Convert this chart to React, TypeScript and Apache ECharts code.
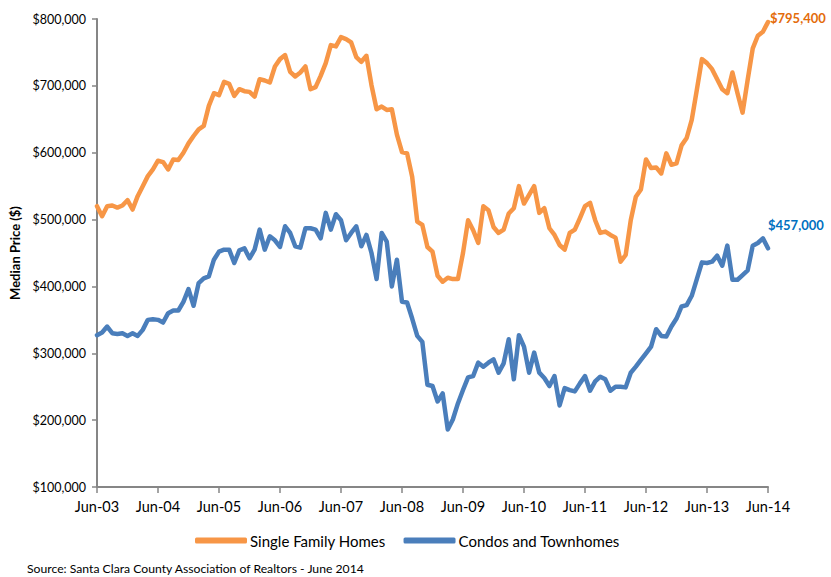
import React, { useEffect, useRef } from "react";
import * as echarts from "echarts";

const MONTHS = ["Jan", "Feb", "Mar", "Apr", "May", "Jun", "Jul", "Aug", "Sep", "Oct", "Nov", "Dec"];
// Jun-03 .. Jun-14, monthly
const categories: string[] = [];
for (let i = 0; i <= 132; i++) {
  const mIdx = (5 + i) % 12;
  const yr = 3 + Math.floor((5 + i) / 12);
  categories.push(`${MONTHS[mIdx]}-${String(yr).padStart(2, "0")}`);
}

const singleFamily = [
  520, 505, 520, 521, 518, 521, 529, 515, 535, 550, 565, 575, 588,
  586, 575, 590, 589, 600, 614, 625, 635, 640, 670, 689, 686,
  706, 703, 685, 695, 692, 691, 684, 710, 708, 705, 729, 740,
  746, 721, 714, 720, 729, 695, 698, 715, 734, 761, 759, 773,
  770, 765, 743, 736, 745, 701, 665, 669, 664, 665, 627, 601,
  599, 564, 497, 492, 459, 452, 416, 407, 413, 411, 411, 450,
  499, 484, 465, 520, 514, 489, 480, 485, 509, 517, 550, 524,
  537, 550, 510, 517, 487, 477, 462, 455, 480, 485, 502, 520,
  525, 499, 480, 482, 477, 473, 437, 447, 499, 534, 545, 590,
  577, 578, 569, 599, 582, 584, 611, 622, 649, 694, 740, 734,
  725, 710, 695, 689, 720, 689, 660, 709, 756, 775, 781, 795.4,
].map((v) => v * 1000);

const condos = [
  327, 331, 340, 330, 329, 330, 326, 330, 326, 335, 350, 351, 350,
  346, 360, 364, 364, 377, 396, 371, 405, 412, 415, 440, 452,
  455, 455, 435, 454, 457, 442, 455, 485, 455, 475, 469, 459,
  490, 480, 460, 458, 487, 487, 485, 472, 510, 485, 508, 499,
  469, 480, 490, 460, 477, 450, 411, 480, 467, 400, 440, 377,
  376, 352, 326, 317, 253, 251, 228, 240, 186, 201, 225, 245,
  264, 266, 286, 280, 286, 291, 271, 285, 321, 261, 327, 310,
  271, 301, 271, 263, 251, 266, 222, 248, 245, 243, 255, 266,
  244, 258, 265, 261, 244, 250, 250, 249, 271, 280, 290, 300,
  310, 336, 326, 325, 340, 352, 370, 372, 386, 411, 436, 435,
  437, 446, 431, 461, 410, 410, 417, 424, 461, 465, 472, 457,
].map((v) => v * 1000);

const yTicks = { min: 100000, max: 800000, interval: 100000 };
const seriesNames = ["Single Family Homes", "Condos and Townhomes"];
const endLabels = ["$795,400", "$457,000"];
const sourceText = "Source: Santa Clara County Association of Realtors - June 2014";

const FONT = "Lato, 'Open Sans', sans-serif";

export default function App() {
  const ref = useRef<HTMLDivElement>(null);
  useEffect(() => {
    document.body.style.margin = "0";
    if (!ref.current) return;
    const chart = echarts.init(ref.current, null, { renderer: "svg" });
    const fmt = (v: number) => "$" + v.toLocaleString("en-US");
    chart.setOption({
      animation: false,
      textStyle: { fontFamily: FONT },
      grid: { left: 93, right: 63, top: 19, bottom: 90 },
      legend: {
        left: 190,
        top: 528,
        itemWidth: 52,
        itemHeight: 6,
        itemGap: 18,
        icon: "roundRect",
        textStyle: { fontSize: 15, color: "#000", fontFamily: FONT, padding: [0, 0, 0, -2] },
        data: seriesNames,
      },
      xAxis: {
        type: "category",
        data: categories,
        boundaryGap: false,
        axisLine: { lineStyle: { color: "#868686", width: 2 } },
        axisTick: { show: true, interval: 11, length: 6, lineStyle: { color: "#868686", width: 1.5 } },
        axisLabel: { interval: 11, margin: 12, fontSize: 14.5, color: "#000", fontFamily: FONT },
        splitLine: { show: false },
      },
      yAxis: {
        type: "value",
        min: yTicks.min,
        max: yTicks.max,
        interval: yTicks.interval,
        name: "Median Price ($)",
        nameLocation: "middle",
        nameRotate: 90,
        nameGap: 76,
        nameTextStyle: { fontSize: 13, fontWeight: "bold", color: "#000", fontFamily: FONT },
        axisLine: { show: true, lineStyle: { color: "#868686", width: 2 } },
        axisTick: { show: true, length: 5, lineStyle: { color: "#868686", width: 1.5 } },
        axisLabel: { margin: 11, fontSize: 12.5, color: "#000", fontFamily: FONT, formatter: fmt },
        splitLine: { show: false },
      },
      series: [
        {
          name: seriesNames[0],
          type: "line",
          data: singleFamily,
          showSymbol: false,
          symbol: "none",
          color: "#F79646",
          lineStyle: { width: 4.5, color: "#F79646", cap: "round", join: "round" },
          endLabel: {
            show: true,
            formatter: endLabels[0],
            color: "#E46C0A",
            fontWeight: "bold",
            fontSize: 13,
            fontFamily: FONT,
            offset: [-6, -4],
          },
        },
        {
          name: seriesNames[1],
          type: "line",
          data: condos,
          showSymbol: false,
          symbol: "none",
          color: "#4A7EBB",
          lineStyle: { width: 4.5, color: "#4A7EBB", cap: "round", join: "round" },
          endLabel: {
            show: true,
            formatter: endLabels[1],
            color: "#0070C0",
            fontWeight: "bold",
            fontSize: 13,
            fontFamily: FONT,
            offset: [-8, -23],
          },
        },
      ],
      graphic: [
        {
          type: "text",
          left: 27,
          top: 562,
          style: { text: sourceText, fontSize: 12.2, fill: "#000", fontFamily: FONT },
        },
      ],
    });
    return () => chart.dispose();
  }, []);
  return <div ref={ref} style={{ width: 831, height: 577 }} />;
}
